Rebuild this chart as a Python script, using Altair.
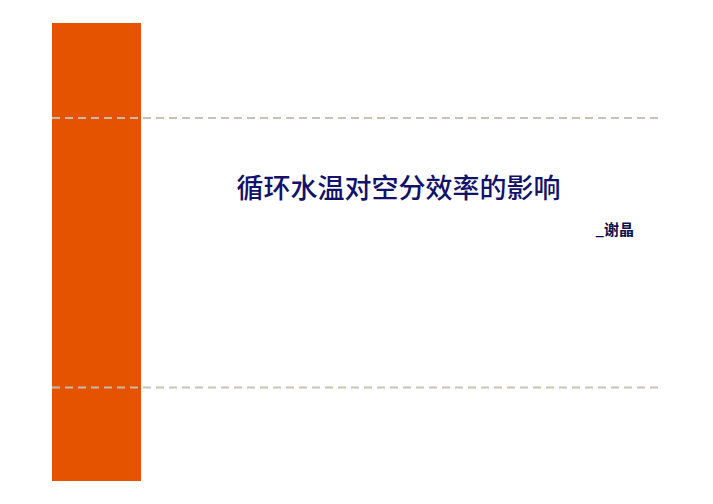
import altair as alt
import pandas as pd

# Slide content
title_text = ["循环水温对空分效率的影响"]
author_text = ["_谢晶"]

# Layout (page pixel coordinates)
panel = pd.DataFrame({"x": [52], "x2": [141], "y": [23], "y2": [481]})
rules = pd.DataFrame({"x": [52, 52], "x2": [662, 662], "y": [118, 387.5]})
title = pd.DataFrame({"x": [398.5], "y": [190], "t": title_text})
author = pd.DataFrame({"x": [634], "y": [230], "t": author_text})

W, H = 680, 480
xs = alt.Scale(domain=[8, 8 + W], nice=False, zero=False)
ys = alt.Scale(domain=[8, 8 + H], nice=False, zero=False, reverse=True)
noax = None

rect = alt.Chart(panel).mark_rect(color="#E55300").encode(
    x=alt.X("x:Q", scale=xs, axis=noax), x2="x2:Q",
    y=alt.Y("y:Q", scale=ys, axis=noax), y2="y2:Q",
)
dash = alt.Chart(rules).mark_rule(color="#C4C2AE", strokeWidth=2.2, strokeDash=[8, 5], opacity=0.95).encode(
    x=alt.X("x:Q", scale=xs, axis=noax), x2="x2:Q",
    y=alt.Y("y:Q", scale=ys, axis=noax),
)
ttl = alt.Chart(title).mark_text(font="Noto Sans CJK SC", fontSize=27, fontWeight=500, color="#12126A",
                                  align="center", baseline="middle").encode(
    x=alt.X("x:Q", scale=xs, axis=noax), y=alt.Y("y:Q", scale=ys, axis=noax), text="t:N"
)
auth = alt.Chart(author).mark_text(font="Noto Sans CJK SC", fontSize=15, fontWeight="bold",
                                   color="#0E0E4A", align="right", baseline="middle").encode(
    x=alt.X("x:Q", scale=xs, axis=noax), y=alt.Y("y:Q", scale=ys, axis=noax), text="t:N"
)

chart = alt.layer(rect, dash, ttl, auth).properties(
    width=W, height=H, padding=0, background="white",
    autosize=alt.AutoSizeParams(type="none")
).configure_view(stroke="transparent", strokeWidth=0)

chart.save("out.html", embed_options={"renderer": "svg", "actions": False})
